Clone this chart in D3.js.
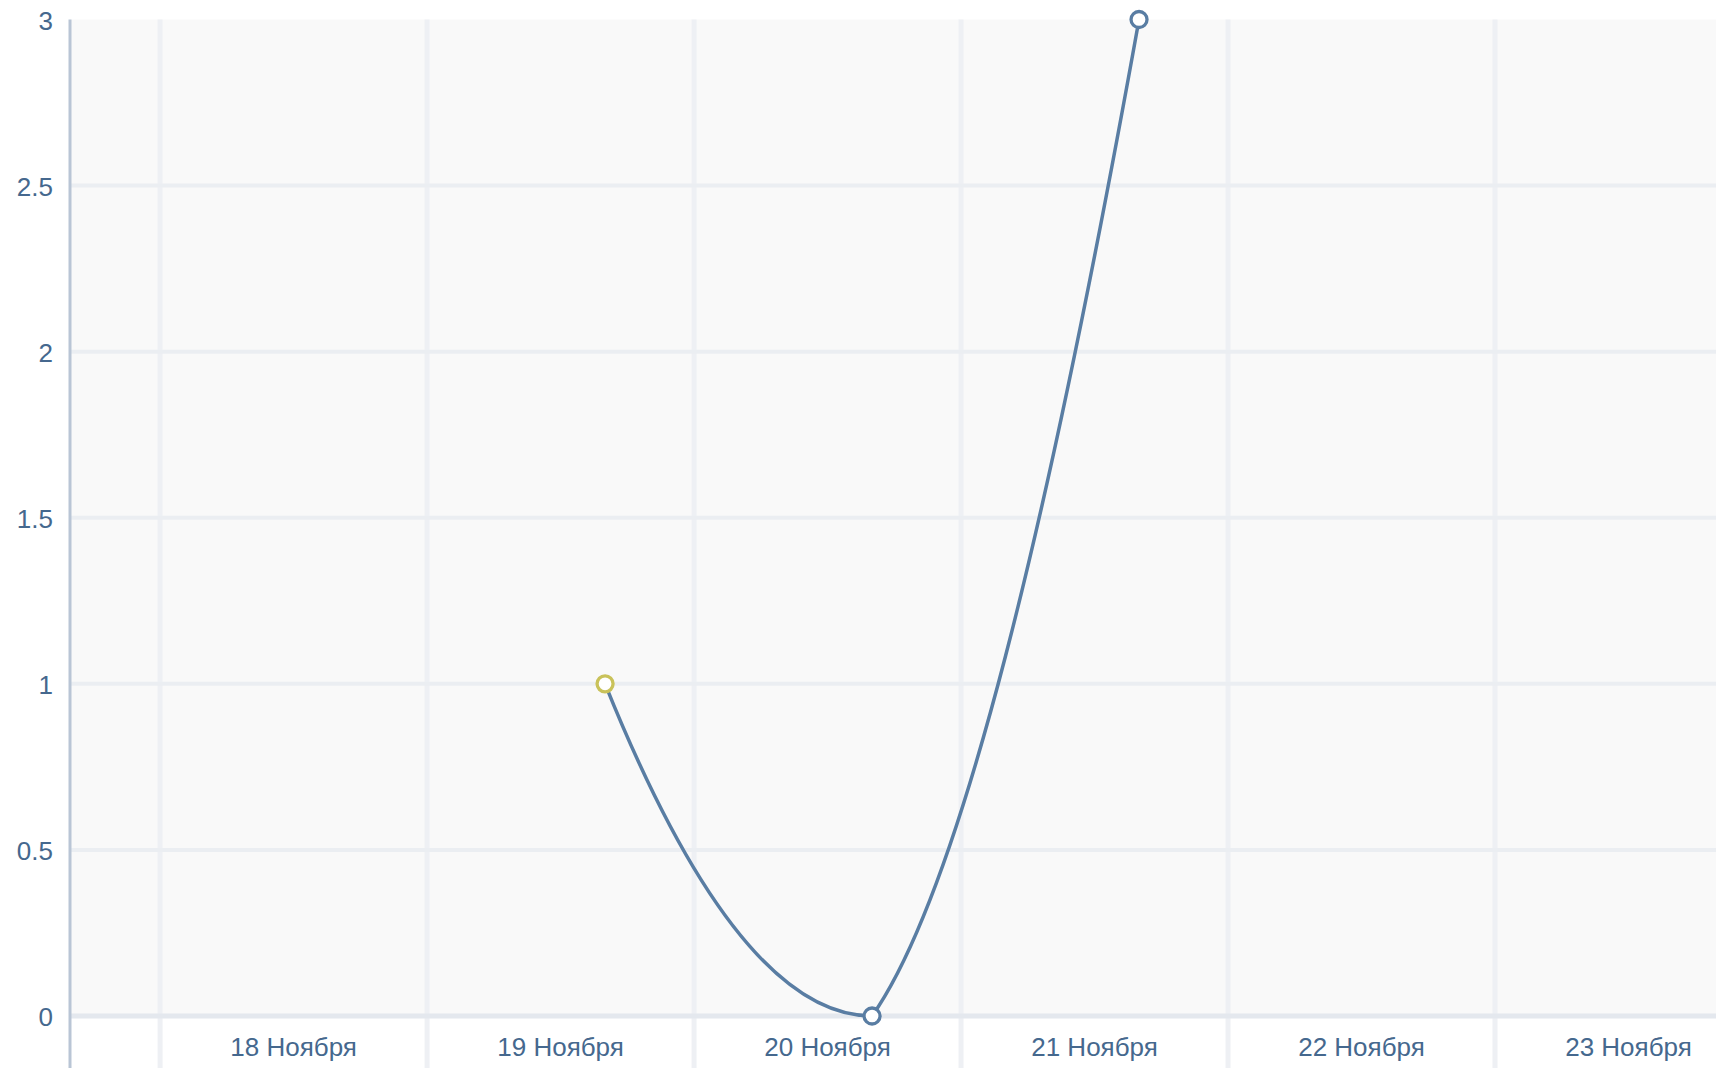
<!DOCTYPE html>
<html>
<head>
<meta charset="utf-8">
<script src="https://cdn.jsdelivr.net/npm/d3@7"></script>
<style>
  html, body { margin: 0; padding: 0; background: #ffffff; }
  svg { display: block; }
</style>
</head>
<body>
<svg id="chart" width="1716" height="1068"></svg>
<script>
// ---- data ----
const pointDates = ["2013-11-19T16:00:00Z", "2013-11-20T16:00:00Z", "2013-11-21T16:00:00Z"];
const pointValues = [1, 0, 3];
const pointColors = ["#c9c25a", "#597da3", "#597da3"];
const dayTicks = ["2013-11-18", "2013-11-19", "2013-11-20", "2013-11-21", "2013-11-22", "2013-11-23"];
const dayLabels = ["18 Ноября", "19 Ноября", "20 Ноября", "21 Ноября", "22 Ноября", "23 Ноября"];
const yTicks = [0, 0.5, 1, 1.5, 2, 2.5, 3];
// curve handle slopes (value per day) entering / leaving each point
const slopeIn = [0, 0, 4.47];
const slopeOut = [-2, 1.14, 0];

// ---- layout ----
const W = 1716, H = 1068;
const plotLeft = 70, plotTop = 19.5, plotBottom = 1016;
const svg = d3.select("#chart");

const x = d3.scaleUtc()
  .domain([new Date(Date.UTC(2013, 10, 17, 15, 54)), new Date(Date.UTC(2013, 10, 23, 19, 52))])
  .range([plotLeft, W]);
const y = d3.scaleLinear().domain([0, 3]).range([plotBottom, plotTop]);

const dayPx = x(new Date(Date.UTC(2013, 10, 19))) - x(new Date(Date.UTC(2013, 10, 18)));
const unitPx = y(1) - y(0);
const k = unitPx / dayPx;

// plot background
svg.append("rect").attr("x", plotLeft).attr("y", plotTop).attr("width", W - plotLeft).attr("height", plotBottom - plotTop)
  .attr("fill", "#f9f9f9");

// vertical grid (day boundaries)
svg.append("g").selectAll("line").data(dayTicks).join("line")
  .attr("x1", d => x(new Date(d + "T00:00:00Z"))).attr("x2", d => x(new Date(d + "T00:00:00Z")))
  .attr("y1", plotTop).attr("y2", H)
  .attr("stroke", "#eef0f4").attr("stroke-width", 5);

// horizontal grid
svg.append("g").selectAll("line").data(yTicks.filter(v => v > 0 && v < 3)).join("line")
  .attr("x1", plotLeft).attr("x2", W)
  .attr("y1", d => y(d)).attr("y2", d => y(d))
  .attr("stroke", "#ebeef2").attr("stroke-width", 4);

// zero line
svg.append("line").attr("x1", plotLeft).attr("x2", W).attr("y1", y(0)).attr("y2", y(0))
  .attr("stroke", "#e4e8ee").attr("stroke-width", 5);

// y axis line
svg.append("line").attr("x1", plotLeft).attr("x2", plotLeft).attr("y1", plotTop).attr("y2", H)
  .attr("stroke", "#b9c5d5").attr("stroke-width", 3);

// y labels
svg.append("g").selectAll("text").data(yTicks).join("text")
  .attr("x", 53).attr("y", d => y(d) + 10)
  .attr("text-anchor", "end")
  .attr("font-family", "'Liberation Sans', Arial, sans-serif")
  .attr("font-size", 26)
  .attr("fill", "#45688e")
  .text(d => d3.format("~g")(d));

// x labels (centered on day)
svg.append("g").selectAll("text").data(dayTicks).join("text")
  .attr("x", d => x(new Date(d + "T12:00:00Z")))
  .attr("y", 1056)
  .attr("text-anchor", "middle")
  .attr("font-family", "'Liberation Sans', Arial, sans-serif")
  .attr("font-size", 26)
  .attr("fill", "#45688e")
  .text((d, i) => dayLabels[i]);

// custom hermite curve with given handle slopes
function hermite(tIn, tOut) {
  return function(context) {
    let pts = [];
    return {
      areaStart() {}, areaEnd() {},
      lineStart() { pts = []; },
      point(px, py) { pts.push([px, py]); },
      lineEnd() {
        pts.forEach((p, i) => {
          if (i === 0) { context.moveTo(p[0], p[1]); return; }
          const q = pts[i - 1];
          const h = (p[0] - q[0]) / 3;
          context.bezierCurveTo(q[0] + h, q[1] + h * tOut[i - 1], p[0] - h, p[1] - h * tIn[i], p[0], p[1]);
        });
      }
    };
  };
}

const data = pointDates.map((d, i) => ({ date: new Date(d), value: pointValues[i], color: pointColors[i] }));

const line = d3.line()
  .x(d => x(d.date)).y(d => y(d.value))
  .curve(hermite(slopeIn.map(s => s * k), slopeOut.map(s => s * k)));

svg.append("path").datum(data)
  .attr("d", line)
  .attr("fill", "none")
  .attr("stroke", "#597da3")
  .attr("stroke-width", 3.5);

svg.append("g").selectAll("circle").data(data).join("circle")
  .attr("cx", d => x(d.date)).attr("cy", d => y(d.value))
  .attr("r", 8)
  .attr("fill", "#ffffff")
  .attr("stroke", d => d.color)
  .attr("stroke-width", 3.3);
</script>
</body>
</html>
